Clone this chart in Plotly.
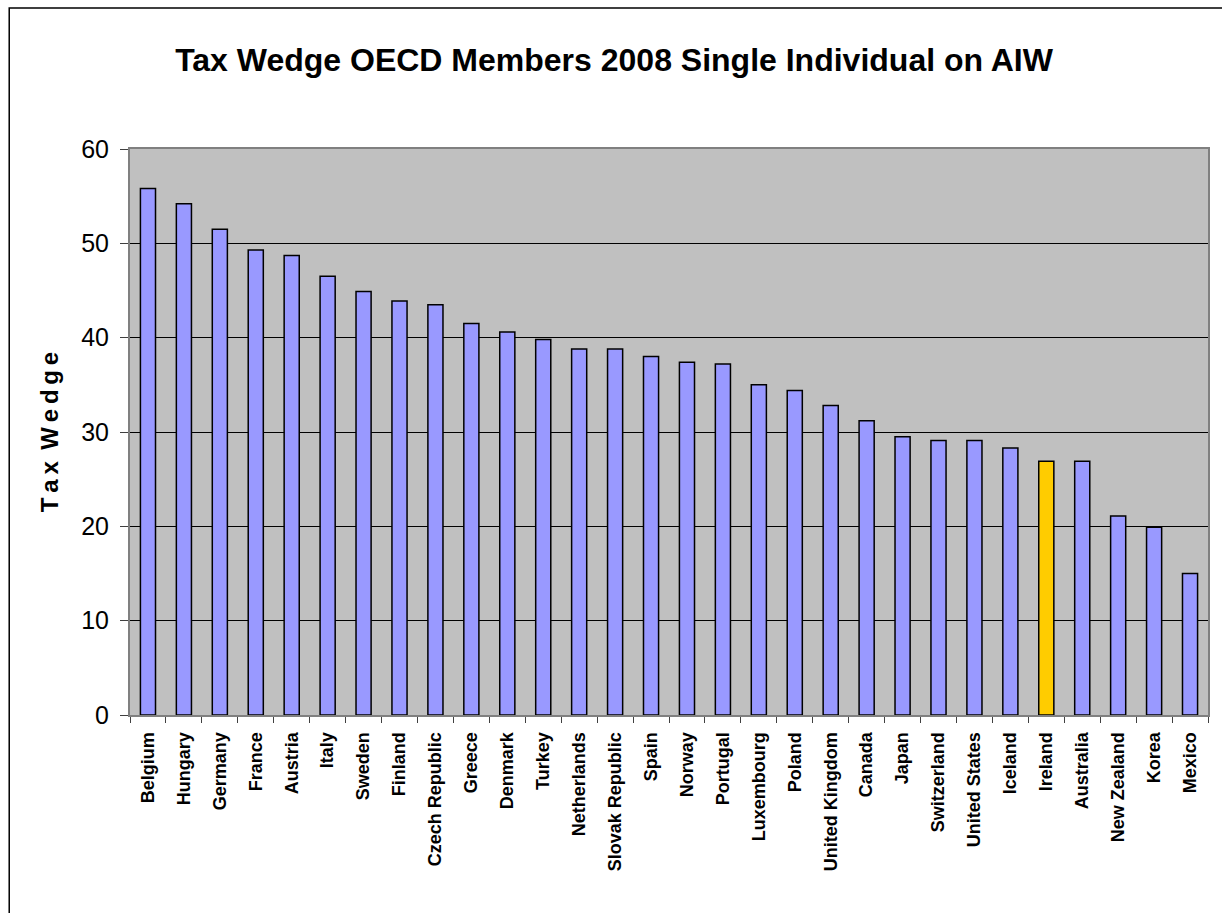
import plotly.graph_objects as go

countries = ["Belgium", "Hungary", "Germany", "France", "Austria", "Italy", "Sweden", "Finland",
             "Czech Republic", "Greece", "Denmark", "Turkey", "Netherlands", "Slovak Republic",
             "Spain", "Norway", "Portugal", "Luxembourg", "Poland", "United Kingdom", "Canada",
             "Japan", "Switzerland", "United States", "Iceland", "Ireland", "Australia",
             "New Zealand", "Korea", "Mexico"]
tax_wedge = [55.8, 54.2, 51.5, 49.3, 48.7, 46.5, 44.9, 43.9, 43.5, 41.5, 40.6, 39.8, 38.8, 38.8,
             38.0, 37.4, 37.2, 35.0, 34.4, 32.8, 31.2, 29.5, 29.1, 29.1, 28.3, 26.9, 26.9,
             21.1, 19.9, 15.0]
highlight = "Ireland"

colors = ["#FFCC00" if c == highlight else "#9999FF" for c in countries]

fig = go.Figure(go.Bar(
    x=countries, y=tax_wedge,
    marker=dict(color=colors, line=dict(color="black", width=1.5)),
    width=0.42,
))

TS = "\u2009"
ytitle = TS.join(list("Tax")) + TS + " " + TS.join(list("Wedge"))

fig.update_layout(
    width=1222, height=913,
    margin=dict(l=130, r=12, t=149, b=198),
    paper_bgcolor="white",
    plot_bgcolor="#C0C0C0",
    showlegend=False,
    font=dict(family="Liberation Sans, Arial, sans-serif", color="black"),
    title=dict(text="<b>Tax Wedge OECD Members 2008 Single Individual on AIW</b>",
               x=0.5025, xref="container", xanchor="center", y=0.934, yanchor="middle",
               font=dict(size=32, color="black")),
)

fig.update_yaxes(
    range=[0, 60], tickvals=[0, 10, 20, 30, 40, 50, 60],
    showgrid=True, gridcolor="black", gridwidth=1,
    ticks="outside", ticklen=8, tickcolor="#404040", ticklabelstandoff=6,
    showline=True, linecolor="#808080", linewidth=2, mirror=True,
    tickfont=dict(size=25), zeroline=False,
    title=dict(text="<b>" + ytitle + "</b>", font=dict(size=24), standoff=16),
)
fig.update_xaxes(
    tickangle=-90, tickfont=dict(size=18), ticks="outside", tickson="boundaries",
    ticklen=6, tickcolor="#404040", ticklabelstandoff=8,
    showline=True, linecolor="#808080", linewidth=2, mirror=True,
    tickprefix="<b>", ticksuffix="</b>",
)

fig.add_shape(type="rect", xref="paper", yref="paper",
              x0=(9 - 130) / 1080, x1=(1240 - 130) / 1080,
              y0=(715 - 930) / 566, y1=(715 - 8) / 566,
              line=dict(color="black", width=1.5), fillcolor="rgba(0,0,0,0)", layer="below")

fig.write_html("out.html", config={"displayModeBar": False})

with open("out.html", "r", encoding="utf-8") as f:
    html = f.read()
html = html.replace("<body>", '<body style="margin:0;overflow:hidden">', 1)
with open("out.html", "w", encoding="utf-8") as f:
    f.write(html)
